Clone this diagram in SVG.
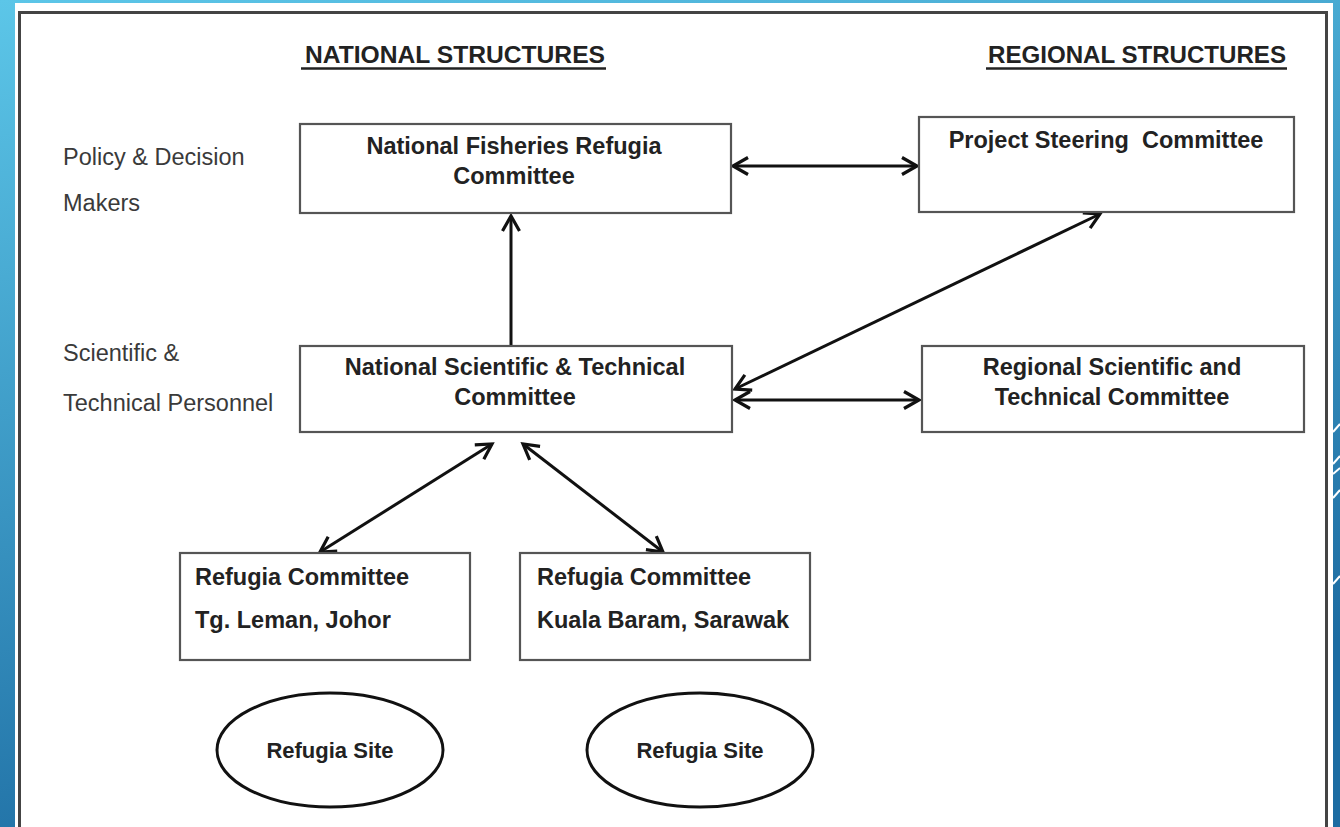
<svg xmlns="http://www.w3.org/2000/svg" width="1340" height="827" viewBox="0 0 1340 827">
  <defs>
    <linearGradient id="bg" x1="0" y1="0" x2="0.35" y2="1">
      <stop offset="0" stop-color="#5cc6e8"/>
      <stop offset="1" stop-color="#1d6ca2"/>
    </linearGradient>
    <marker id="ah" markerUnits="userSpaceOnUse" markerWidth="24" markerHeight="24" refX="18" refY="12" orient="auto-start-reverse" viewBox="0 0 24 24">
      <path d="M3,3.5 L18,12 L3,20.5" fill="none" stroke="#111" stroke-width="3.2" stroke-linejoin="miter"/>
    </marker>
    <style>
      .box { fill: #fff; stroke: #555; stroke-width: 2.2; }
      .ell { fill: #fff; stroke: #111; stroke-width: 3; }
      .conn { stroke: #111; stroke-width: 3; fill: none; }
      .b { font-family: "Liberation Sans", Arial, sans-serif; font-weight: bold; font-size: 23.5px; fill: #222; }
      .bc { text-anchor: middle; }
      .side { font-family: "Liberation Sans", Arial, sans-serif; font-size: 23.5px; fill: #3a3a3a; }
      .hdr { font-family: "Liberation Sans", Arial, sans-serif; font-weight: bold; font-size: 24px; fill: #222; }
      .site { font-family: "Liberation Sans", Arial, sans-serif; font-weight: bold; font-size: 22px; fill: #222; text-anchor: middle; }
    </style>
  </defs>

  <rect x="0" y="0" width="1340" height="827" fill="url(#bg)"/>
  <rect x="15" y="3" width="1318" height="830" fill="#fff"/>
  <rect x="19.5" y="12.5" width="1307" height="830" fill="none" stroke="#444" stroke-width="3"/>
  <g stroke="#fff" stroke-width="2" fill="none">
    <path d="M1333,432 L1340,424"/>
    <path d="M1333,464 L1340,456"/>
    <path d="M1333,474 L1340,468"/>
    <path d="M1333,498 L1340,490"/>
    <path d="M1333,584 L1340,576"/>
  </g>

  <g id="headers">
    <text class="hdr" x="305" y="63" textLength="300" lengthAdjust="spacingAndGlyphs">NATIONAL STRUCTURES</text>
    <line x1="301" y1="68.5" x2="606" y2="68.5" stroke="#222" stroke-width="2.5"/>
    <text class="hdr" x="988" y="63" textLength="298" lengthAdjust="spacingAndGlyphs">REGIONAL STRUCTURES</text>
    <line x1="986" y1="68.5" x2="1287" y2="68.5" stroke="#222" stroke-width="2.5"/>
  </g>

  <g id="side-labels">
    <text class="side" x="63" y="165">Policy &amp; Decision</text>
    <text class="side" x="63" y="211">Makers</text>
    <text class="side" x="63" y="361">Scientific &amp;</text>
    <text class="side" x="63" y="411">Technical Personnel</text>
  </g>

  <g id="connectors">
    <line class="conn" x1="733" y1="166" x2="917" y2="166" marker-start="url(#ah)" marker-end="url(#ah)"/>
    <line class="conn" x1="511" y1="345" x2="511" y2="216" marker-end="url(#ah)"/>
    <line class="conn" x1="735" y1="389" x2="1100" y2="214" marker-start="url(#ah)" marker-end="url(#ah)"/>
    <line class="conn" x1="735" y1="400" x2="919" y2="400" marker-start="url(#ah)" marker-end="url(#ah)"/>
    <line class="conn" x1="492" y1="444" x2="320" y2="552" marker-start="url(#ah)" marker-end="url(#ah)"/>
    <line class="conn" x1="523" y1="444" x2="663" y2="552" marker-start="url(#ah)" marker-end="url(#ah)"/>
  </g>

  <g id="nfrc">
    <rect class="box" x="300" y="124" width="431" height="89"/>
    <text class="b bc" x="514" y="154">National Fisheries Refugia</text>
    <text class="b bc" x="514" y="184">Committee</text>
  </g>

  <g id="psc">
    <rect class="box" x="919" y="117" width="375" height="95"/>
    <text class="b bc" x="1106" y="148" xml:space="preserve">Project Steering  Committee</text>
  </g>

  <g id="nstc">
    <rect class="box" x="300" y="346" width="432" height="86"/>
    <text class="b bc" x="515" y="375">National Scientific &amp; Technical</text>
    <text class="b bc" x="515" y="405">Committee</text>
  </g>

  <g id="rstc">
    <rect class="box" x="922" y="346" width="382" height="86"/>
    <text class="b bc" x="1112" y="375">Regional Scientific and</text>
    <text class="b bc" x="1112" y="405">Technical Committee</text>
  </g>

  <g id="rc-johor">
    <rect class="box" x="180" y="553" width="290" height="107"/>
    <text class="b" x="195" y="585">Refugia Committee</text>
    <text class="b" x="195" y="628">Tg. Leman, Johor</text>
  </g>

  <g id="rc-sarawak">
    <rect class="box" x="520" y="553" width="290" height="107"/>
    <text class="b" x="537" y="585">Refugia Committee</text>
    <text class="b" x="537" y="628">Kuala Baram, Sarawak</text>
  </g>

  <g id="site1">
    <ellipse class="ell" cx="330" cy="750" rx="113" ry="57"/>
    <text class="site" x="330" y="758">Refugia Site</text>
  </g>

  <g id="site2">
    <ellipse class="ell" cx="700" cy="750" rx="113" ry="57"/>
    <text class="site" x="700" y="758">Refugia Site</text>
  </g>
</svg>
